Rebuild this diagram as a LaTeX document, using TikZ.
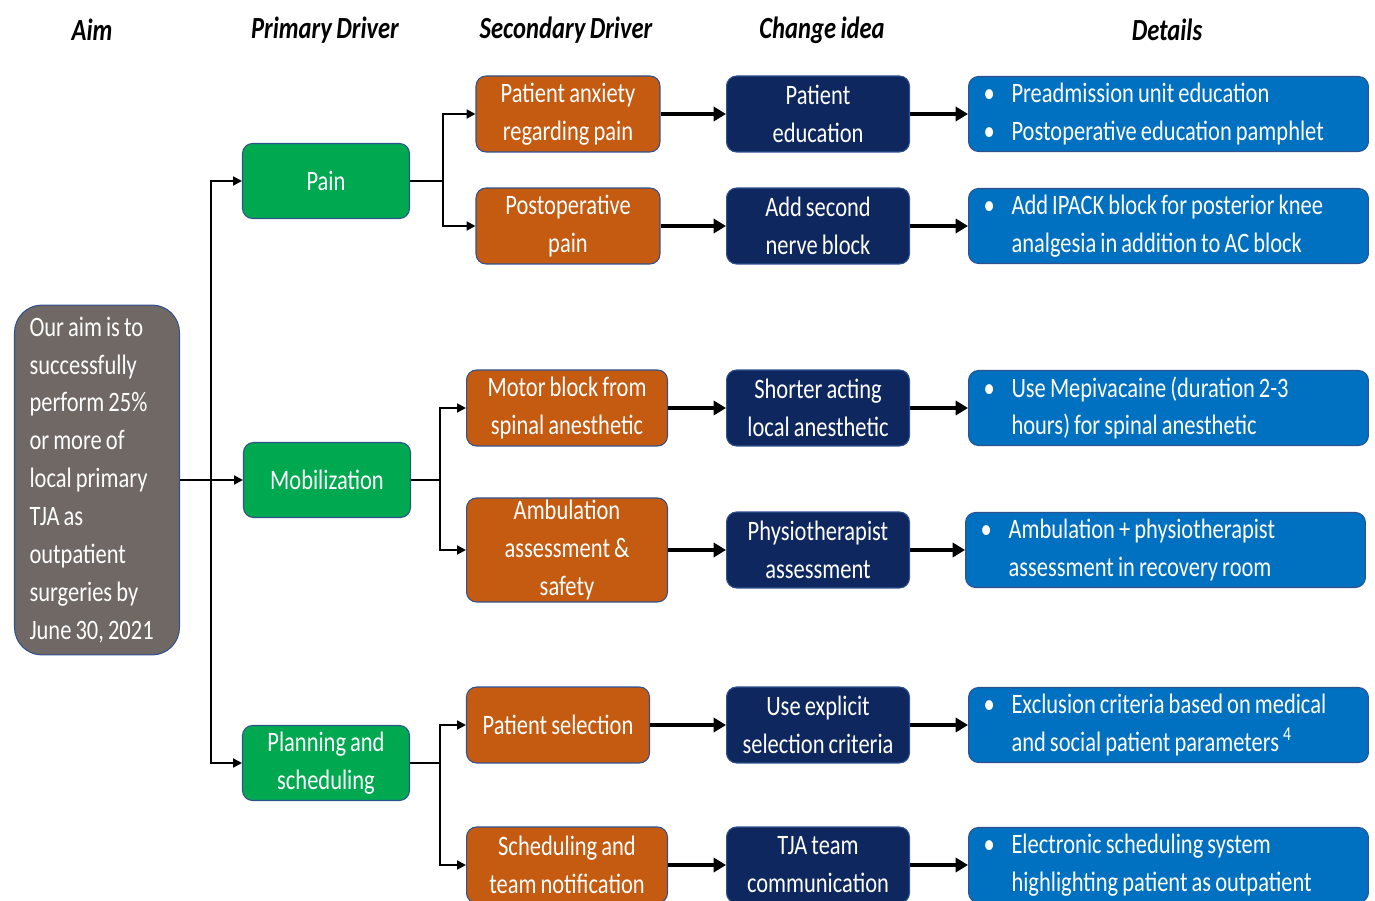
\documentclass[tikz,border=0pt]{standalone}
\usepackage{fontspec}
\setmainfont{Carlito}[FakeStretch=0.8,WordSpace=0.8]
\usetikzlibrary{positioning,arrows.meta}
\definecolor{aimgray}{RGB}{111,104,100}
\definecolor{drvgreen}{RGB}{0,168,80}
\definecolor{secorange}{RGB}{197,90,17}
\definecolor{ideanavy}{RGB}{14,40,95}
\definecolor{detblue}{RGB}{0,112,192}
\definecolor{boxedge}{RGB}{47,82,143}
\tikzset{node distance=1.16cm,
  box/.style={draw=boxedge, line width=0.6pt, rounded corners=0.2cm, text=white, align=center, inner sep=0pt, font=\fontsize{16}{21.6}\selectfont},
  aim/.style={box, fill=aimgray, rounded corners=0.55cm, minimum width=3.3cm, minimum height=7cm, text width=2.7cm, align=flush left},
  primary/.style={box, fill=drvgreen, minimum width=3.34cm, minimum height=1.5cm},
  secondary/.style={box, fill=secorange, minimum width=4.02cm, minimum height=1.52cm},
  idea/.style={box, fill=ideanavy, minimum width=3.66cm, minimum height=1.52cm},
  detail/.style={box, fill=detblue, minimum width=8cm, minimum height=1.5cm, text width=7.4cm, align=flush left},
  head/.style={font=\fontsize{17.5}{20}\selectfont\bfseries\itshape},
  wire/.style={draw, line width=1.1pt},
  link/.style={wire, -{Triangle[length=5pt,width=5pt]}},
  thick link/.style={draw, line width=2pt, -{Triangle[length=7pt,width=8pt]}}}
\newcommand{\bul}{\makebox[0.56cm][l]{\textbullet}}
\newcommand{\cont}{\hspace*{0.56cm}}

\begin{document}
\begin{tikzpicture}[x=0.02cm, y=-0.02cm]
	\useasboundingbox (0,0) rectangle (1375,901);
	\clip (0,0) rectangle (1375,901);

	% column heads
	\node[head] (hAim) at (92,30) {Aim};
	\node[head] (hPrim) at (325,30) {Primary Driver};
	\node[head] (hSec) at (566,30) {Secondary Driver};
	\node[head] (hIdea) at (822,30) {Change idea};
	\node[head] (hDet) at (1167,30) {Details};

	\node[aim] (aim) at (97,480) {Our aim is to\\successfully\\perform 25\%\\or more of\\local primary\\TJA as\\outpatient\\surgeries by\\June 30, 2021};

	% primary drivers
	\node[primary] (pain) at (326,181) {Pain};
	\node[primary] (mob) at (327,480) {Mobilization};
	\node[primary] (plan) at (326,763) {Planning and\\scheduling};

	% secondary drivers
	\node[secondary, minimum width=3.68cm] (anx) at (568,114) {Patient anxiety\\regarding pain};
	\node[secondary, minimum width=3.68cm] (post) at (568,226) {Postoperative\\pain};
	\node[secondary] (motor) at (567,408) {Motor block from\\spinal anesthetic};
	\node[secondary, minimum height=2.08cm] (amb) at (567,550) {Ambulation\\assessment \&\\safety};
	\node[secondary, minimum width=3.66cm] (sel) at (558,725) {Patient selection};
	\node[secondary] (sched) at (567,865) {Scheduling and\\team notification};

	% change ideas
	\node[idea] (edu) at (818,114) {Patient\\education};
	\node[idea] (nerve) at (818,226) {Add second\\nerve block};
	\node[idea] (short) at (818,408) {Shorter acting\\local anesthetic};
	\node[idea] (physio) at (818,550) {Physiotherapist\\assessment};
	\node[idea] (crit) at (818,725) {Use explicit\\selection criteria};
	\node[idea] (comm) at (818,865) {TJA team\\communication};

	% details
	\node[detail] (d1) [right=of edu] {\bul Preadmission unit education\\\bul Postoperative education pamphlet};
	\node[detail] (d2) [right=of nerve] {\bul Add IPACK block for posterior knee\\\cont analgesia in addition to AC block};
	\node[detail] (d3) [right=of short] {\bul Use Mepivacaine (duration 2-3\\\cont hours) for spinal anesthetic};
	\node[detail] (d4) [right=of physio,xshift=-0.06cm] {\bul Ambulation + physiotherapist\\\cont assessment in recovery room};
	\node[detail] (d5) [right=of crit] {\bul Exclusion criteria based on medical\\\cont and social patient parameters \textsuperscript{4}};
	\node[detail] (d6) [right=of comm] {\bul Electronic scheduling system\\\cont highlighting patient as outpatient};

	\coordinate (trunk) at (211,480);
	\coordinate (bPain) at (443,181);
	\coordinate (bMob) at (440,480);
	\coordinate (bPlan) at (440,763);

	\path[wire] (aim) -- (trunk) (pain) -- (bPain) (mob) -- (bMob) (plan) -- (bPlan);
	\foreach \n in {pain,mob,plan}
		\draw[link] (trunk) |- (\n);
	\foreach \b/\n in {bPain/anx,bPain/post,bMob/motor,bMob/amb,bPlan/sel,bPlan/sched}
		\draw[link] (\b) |- (\n);
	\foreach \a/\n in {anx/edu,post/nerve,motor/short,amb/physio,sel/crit,sched/comm,edu/d1,nerve/d2,short/d3,physio/d4,crit/d5,comm/d6}
		\draw[thick link] (\a) -- (\n);
\end{tikzpicture}
\end{document}
